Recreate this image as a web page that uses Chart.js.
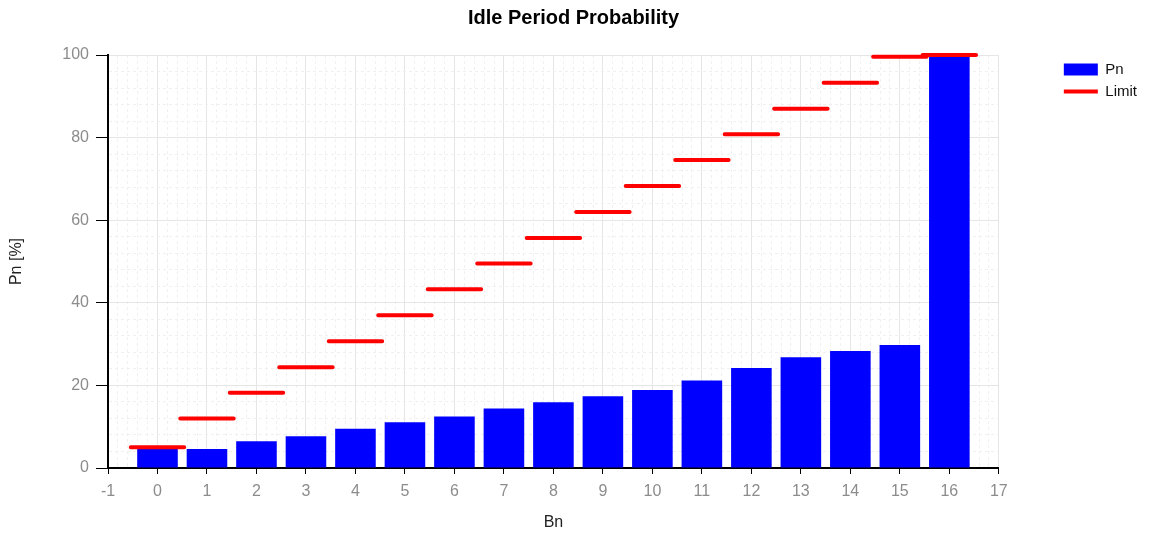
<!DOCTYPE html>
<html>
<head>
<meta charset="utf-8">
<script src="https://cdn.jsdelivr.net/npm/chart.js@4/dist/chart.umd.min.js"></script>
<style>
  body { margin: 0; background: #fff; }
  #wrap { width: 1151px; height: 536px; }
</style>
</head>
<body>
<div id="wrap"><canvas id="myChart" width="1151" height="536"></canvas></div>
<script>
// Bn bins and their values
let bins = [0, 1, 2, 3, 4, 5, 6, 7, 8, 9, 10, 11, 12, 13, 14, 15, 16];
let pnValues = [4.8, 4.6, 6.5, 7.7, 9.5, 11.1, 12.5, 14.4, 15.9, 17.4, 18.9, 21.2, 24.2, 26.8, 28.3, 29.8, 100];
let limitValues = [5.0, 12.0, 18.2, 24.4, 30.7, 37.0, 43.3, 49.5, 55.7, 62.0, 68.3, 74.6, 80.8, 87.0, 93.3, 99.6, 100];

let halfStep = 0.54; // half width of each limit segment

function isWhole(v) {
    return Math.abs(v - Math.round(v)) < 1e-6;
}

let barData = [];
let limitData = [];
for (i = 0; i < bins.length; i++) {
    barData.push({x: bins[i], y: pnValues[i]});
    limitData.push({x: bins[i] - halfStep, y: limitValues[i]});
    limitData.push({x: bins[i] + halfStep, y: limitValues[i]});
    limitData.push({x: bins[i] + halfStep, y: null});
}

let tickFont = {family: "Liberation Sans", size: 16};
let tickColor = "#8c8c8c";
let majorGrid = "#e6e6e6";
let minorGrid = "#f0f0f0";

new Chart("myChart", {
    data: {
        datasets: [{
            type: "bar",
            label: "Pn",
            data: barData,
            backgroundColor: "#0000ff",
            borderWidth: 0,
            barPercentage: 0.82,
            categoryPercentage: 1.0,
            order: 1
        }, {
            type: "line",
            label: "Limit",
            data: limitData,
            borderColor: "#ff0000",
            backgroundColor: "#ff0000",
            borderWidth: 4,
            borderCapStyle: "round",
            pointRadius: 0,
            spanGaps: false,
            clip: false,
            order: 0
        }]
    },
    options: {
        responsive: false,
        animation: false,
        events: [],
        layout: {padding: {left: 0, right: 4, top: 0, bottom: 0}},
        plugins: {
            title: {
                display: true,
                text: "Idle Period Probability",
                color: "#000",
                font: {family: "Liberation Sans", size: 20, weight: "bold"},
                padding: {top: 6, bottom: 25}
            },
            legend: {
                position: "right",
                align: "start",
                fullSize: false,
                labels: {
                    color: "#111",
                    font: {family: "Liberation Sans", size: 15},
                    usePointStyle: true,
                    pointStyleWidth: 34,
                    boxWidth: 34,
                    boxHeight: 12,
                    padding: 7,
                    sort: function(a, b) { return a.datasetIndex - b.datasetIndex; },
                    generateLabels: function(chart) {
                        let items = Chart.defaults.plugins.legend.labels.generateLabels(chart);
                        items.forEach(item => {
                            if (item.text == "Pn") {
                                item.pointStyle = "rect";
                                item.lineWidth = 0;
                                item.fillStyle = "#0000ff";
                            } else {
                                item.pointStyle = "line";
                                item.lineWidth = 4;
                                item.strokeStyle = "#ff0000";
                            }
                        });
                        return items;
                    }
                }
            },
            tooltip: {enabled: false}
        },
        scales: {
            x: {
                type: "linear",
                position: "bottom",
                min: -1,
                max: 17,
                offset: false,
                afterFit: function(scale) { scale.height = 68; },
                ticks: {
                    stepSize: 1,
                    autoSkip: false,
                    maxRotation: 0,
                    minRotation: 0,
                    padding: 8,
                    color: tickColor,
                    font: tickFont
                },
                grid: {
                    offset: false,
                    tickLength: 6,
                    color: majorGrid,
                    tickColor: "#000"
                },
                border: {color: "#000", width: 2}
                ,
                title: {
                    display: true,
                    text: "Bn",
                    color: "#222",
                    font: {family: "Liberation Sans", size: 16},
                    padding: {top: 0, bottom: 4}
                }
            },
            // minor vertical grid only
            xMinor: {
                type: "linear",
                position: "bottom",
                min: -1,
                max: 17,
                offset: false,
                afterFit: function(scale) { scale.height = 0; },
                ticks: {display: false, stepSize: 0.2, autoSkip: false},
                grid: {
                    drawTicks: false,
                    color: function(c) { return c.tick && isWhole(c.tick.value) ? "rgba(0,0,0,0)" : minorGrid; }
                },
                border: {display: false, dash: [3, 3]}
            },
            y: {
                type: "linear",
                position: "left",
                min: 0,
                max: 100,
                afterFit: function(scale) { scale.width = 108; },
                ticks: {
                    stepSize: 4,
                    autoSkip: false,
                    padding: 7,
                    color: tickColor,
                    font: tickFont,
                    callback: function(v) { return v % 20 === 0 ? v : ""; }
                },
                grid: {
                    tickLength: 12,
                    color: function(c) { return c.tick && c.tick.value % 20 === 0 ? majorGrid : minorGrid; },
                    tickColor: function(c) { return c.tick && c.tick.value % 20 === 0 ? "#000" : "rgba(0,0,0,0)"; }
                },
                border: {
                    color: "#000",
                    width: 2,
                    dash: function(c) { return c.tick && c.tick.value % 20 !== 0 ? [3, 3] : []; }
                },
                title: {
                    display: true,
                    text: "Pn [%]",
                    color: "#222",
                    font: {family: "Liberation Sans", size: 16},
                    padding: {top: 7, bottom: 0}
                }
            },
            // empty right axis, only keeps the gap between plot and legend
            spacer: {
                type: "linear",
                position: "right",
                min: 0,
                max: 1,
                afterFit: function(scale) { scale.width = 58; },
                ticks: {display: false},
                grid: {display: false},
                border: {display: false}
            }
        }
    }
});
</script>
</body>
</html>
